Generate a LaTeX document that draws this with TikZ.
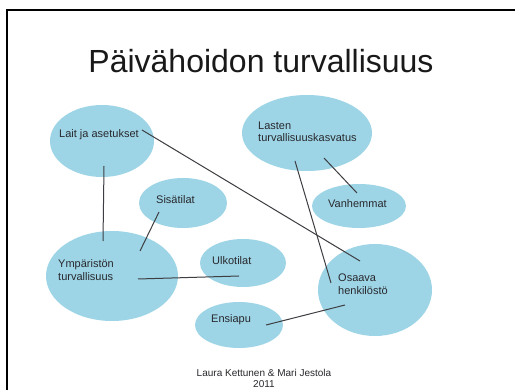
\documentclass[tikz,border=0pt]{standalone}
\usepackage{fontspec}
\setmainfont{Liberation Sans}
\usetikzlibrary{shapes.geometric}
\definecolor{bubble}{RGB}{157,213,230}
\definecolor{ink}{RGB}{40,40,45}
\begin{document}
\begin{tikzpicture}[x=1pt,y=-1pt,
  bub/.style={ellipse,fill=bubble,draw=none,inner sep=0pt},
  lbl/.style={inner sep=0pt,anchor=west,align=left,text=ink,font=\fontsize{11}{12.5}\selectfont},
  conn/.style={draw=ink!90,line width=1pt}]
\useasboundingbox (0,0) rectangle (515,390);
\fill[white] (0,0) rectangle (515,390);
\draw[line width=2pt,black] (7,390) -- (7,10.5) -- (515,10.5);
\node[inner sep=0pt,font=\fontsize{32}{36}\selectfont,text=black!90] (title) at (261,61) {Päivähoidon turvallisuus};
% bubbles
\node[bub,minimum width=104,minimum height=72] (lait) at (102,141) {};
\node[bub,minimum width=88,minimum height=50] (sisa) at (183,203) {};
\node[bub,minimum width=130,minimum height=76] (lasten) at (307,133) {};
\node[bub,minimum width=94,minimum height=44] (vanh) at (359,206) {};
\node[bub,minimum width=132,minimum height=90] (ymp) at (112,276) {};
\node[bub,minimum width=86,minimum height=48] (ulko) at (243,263) {};
\node[bub,minimum width=114,minimum height=92] (osaava) at (375,290) {};
\node[bub,minimum width=88,minimum height=46] (ensi) at (239,325) {};
% labels
\node[lbl] (tlait) at (59,135) {Lait ja asetukset};
\node[lbl] (tlasten) at (258,132) {Lasten\\turvallisuuskasvatus};
\node[lbl] (tsisa) at (156,200) {Sisätilat};
\node[lbl] (tvanh) at (328,204) {Vanhemmat};
\node[lbl] (tymp) at (58,270) {Ympäristön\\turvallisuus};
\node[lbl] (tulko) at (212,261) {Ulkotilat};
\node[lbl] (tosaava) at (338,284) {Osaava\\henkilöstö};
\node[lbl] (tensi) at (211,320) {Ensiapu};
\node[inner sep=0pt,align=center,text=ink,font=\fontsize{10}{11}\selectfont] (footer) at (264,378) {Laura Kettunen \& Mari Jestola\\2011};
% connector end points
\coordinate (a1) at (104,166);
\coordinate (a2) at (103,241);
\coordinate (b1) at (142,130);
\coordinate (b2) at (360,261);
\coordinate (c1) at (159,212);
\coordinate (c2) at (140,251);
\coordinate (d1) at (138,279);
\coordinate (d2) at (239,276);
\coordinate (e1) at (295,161);
\coordinate (e2) at (331,283);
\coordinate (f1) at (324,158);
\coordinate (f2) at (357,193);
\coordinate (g1) at (266,325);
\coordinate (g2) at (345,305);
\draw[conn] (a1) -- (a2);
\draw[conn] (b1) -- (b2);
\draw[conn] (c1) -- (c2);
\draw[conn] (d1) -- (d2);
\draw[conn] (e1) -- (e2);
\draw[conn] (f1) -- (f2);
\draw[conn] (g1) -- (g2);
\end{tikzpicture}
\end{document}
